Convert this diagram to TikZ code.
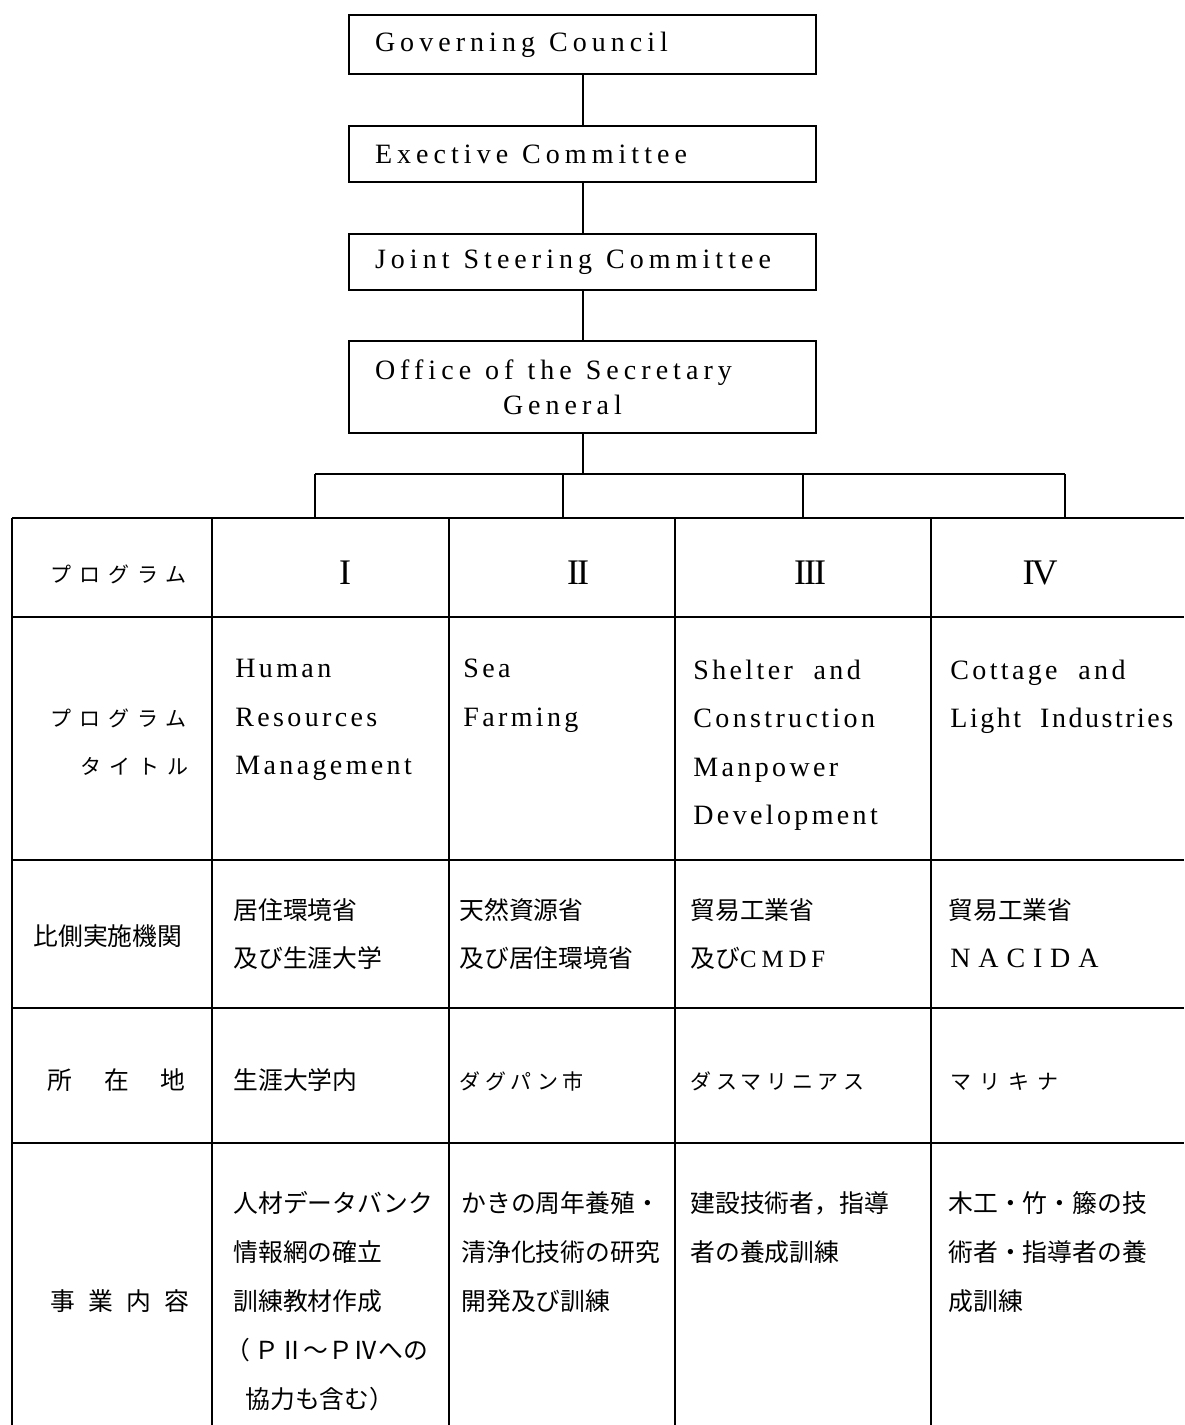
\documentclass[tikz,border=0pt]{standalone}
\usepackage{fontspec}
\setmainfont{Liberation Serif}
\newfontfamily\en{Liberation Serif}[LetterSpace=12,WordSpace=2]
\newfontfamily\enb{Liberation Serif}[LetterSpace=18]
\newfontfamily\jp{Noto Sans CJK JP}
\newfontfamily\jpk{Noto Sans CJK JP}[LetterSpace=22]
\newfontfamily\jpw{Noto Sans CJK JP}[LetterSpace=38]
\newcommand\mywsp{\hspace*{7pt}}
\tikzset{
  box/.style={draw, line width=1pt, minimum width=233.5pt, inner xsep=13pt,
    text width=207.5pt, align=left, font=\enb\fontsize{14}{17.5}\selectfont},
  rule/.style={line width=1pt},
  en/.style={anchor=west, inner sep=0pt, font=\en\fontsize{14}{16}\selectfont,
    text height=10pt, text depth=1pt},
  jp/.style={anchor=west, inner sep=0pt, font=\jp\fontsize{12.4}{14}\selectfont,
    text height=10pt, text depth=1pt},
  kana/.style={anchor=west, inner sep=0pt, font=\jpk\fontsize{10.5}{12}\selectfont,
    text height=10pt, text depth=1pt},
  kanaw/.style={anchor=west, inner sep=0pt, font=\jpw\fontsize{10.5}{12}\selectfont,
    text height=10pt, text depth=1pt},
  roman/.style={anchor=center, inner sep=0pt, font=\fontsize{18}{18}\selectfont}
}
\begin{document}
\begin{tikzpicture}[x=0.5pt,y=-0.5pt]
\useasboundingbox (0,0) rectangle (1184,1425);
% hierarchy boxes
\node[box, minimum height=29.5pt] (gov) at (582.5,44.5) {Governing\mywsp Council};
\node[box, minimum height=28pt] (exe) at (582.5,154) {Exective\mywsp Committee};
\node[box, minimum height=28pt] (jsc) at (582.5,262) {Joint\mywsp Steering\mywsp Committee};
\node[box, minimum height=46pt] (osg) at (582.5,387) {Office\mywsp of\mywsp the\mywsp Secretary\\\hspace*{64pt}General};
\draw[rule] (gov) -- (exe);
\draw[rule] (exe) -- (jsc);
\draw[rule] (jsc) -- (osg);
% branch
\coordinate (br) at (582.5,474);
\coordinate (b1) at (315,474);
\coordinate (b2) at (563,474);
\coordinate (b3) at (803,474);
\coordinate (b4) at (1065,474);
\coordinate (t1) at (315,518);
\coordinate (t2) at (563,518);
\coordinate (t3) at (803,518);
\coordinate (t4) at (1065,518);
\draw[rule] (osg) -- (br);
\draw[rule] (b1) -- (b4);
\draw[rule] (b1) -- (t1);
\draw[rule] (b2) -- (t2);
\draw[rule] (b3) -- (t3);
\draw[rule] (b4) -- (t4);
% table grid
\foreach \yy in {518,617,860,1008,1143} \draw[rule] (12,\yy) -- (1184,\yy);
\foreach \xx in {12,212,449,675,931} \draw[rule] (\xx,518) -- (\xx,1425);
% row 1
\node[kanaw] (h1) at (50,573) {プログラム};
\node[roman] (r1) at (345,573) {I};
\node[roman] (r2) at (578,573) {I\kern-1pt I};
\node[roman] (r3) at (810,573) {I\kern-1pt I\kern-1pt I};
\node[roman] (r4) at (1040,573) {I\kern-1.5pt V};
% row 2
\node[kanaw] (h2a) at (50,717) {プログラム};
\node[kanaw] (h2b) at (80,765) {タイトル};
\node[en] (p1a) at (235,668) {Human};
\node[en] (p1b) at (235,717) {Resources};
\node[en] (p1c) at (235,765) {Management};
\node[en] (p2a) at (463,668) {Sea};
\node[en] (p2b) at (463,717) {Farming};
\node[en] (p3a) at (693,670) {Shelter and};
\node[en] (p3b) at (693,718) {Construction};
\node[en] (p3c) at (693,767) {Manpower};
\node[en] (p3d) at (693,815) {Development};
\node[en] (p4a) at (950,670) {Cottage and};
\node[en] (p4b) at (950,718) {\addfontfeature{LetterSpace=9}Light Industries};
% row 3
\node[jp] (h3) at (33,936) {比側実施機関};
\node[jp] (a1a) at (233,910) {居住環境省};
\node[jp] (a1b) at (233,958) {及び生涯大学};
\node[jp] (a2a) at (459,910) {天然資源省};
\node[jp] (a2b) at (459,958) {及び居住環境省};
\node[jp] (a3a) at (690,910) {貿易工業省};
\node[jp] (a3b) at (690,958) {及び{\en\addfontfeature{LetterSpace=20}CMDF}};
\node[jp] (a4a) at (948,910) {貿易工業省};
\node[en] (a4b) at (950,958) {\addfontfeature{LetterSpace=28}NACIDA};
% row 4
\node[jp] (h4) at (47,1080) {所\hspace{16pt}在\hspace{16pt}地};
\node[jp] (l1) at (233,1080) {生涯大学内};
\node[kana] (l2) at (459,1080) {ダグパン市};
\node[kana] (l3) at (690,1080) {ダスマリニアス};
\node[kanaw] (l4) at (950,1080) {マリキナ};
% row 5
\node[jp] (h5) at (50,1301) {事\hspace{6.7pt}業\hspace{6.7pt}内\hspace{6.7pt}容};
\node[jp] (c1a) at (233,1203) {人材データバンク};
\node[jp] (c1b) at (233,1252) {情報網の確立};
\node[jp] (c1c) at (233,1301) {訓練教材作成};
\node[jp] (c1d) at (225,1350) {（\,ＰⅡ～ＰⅣへの};
\node[jp] (c1e) at (245,1399) {協力も含む）};
\node[jp] (c2a) at (461,1203) {かきの周年養殖・};
\node[jp] (c2b) at (461,1252) {清浄化技術の研究};
\node[jp] (c2c) at (461,1301) {開発及び訓練};
\node[jp] (c3a) at (690,1203) {建設技術者，指導};
\node[jp] (c3b) at (690,1252) {者の養成訓練};
\node[jp] (c4a) at (948,1203) {木工・竹・籐の技};
\node[jp] (c4b) at (948,1252) {術者・指導者の養};
\node[jp] (c4c) at (948,1301) {成訓練};
\end{tikzpicture}
\end{document}
